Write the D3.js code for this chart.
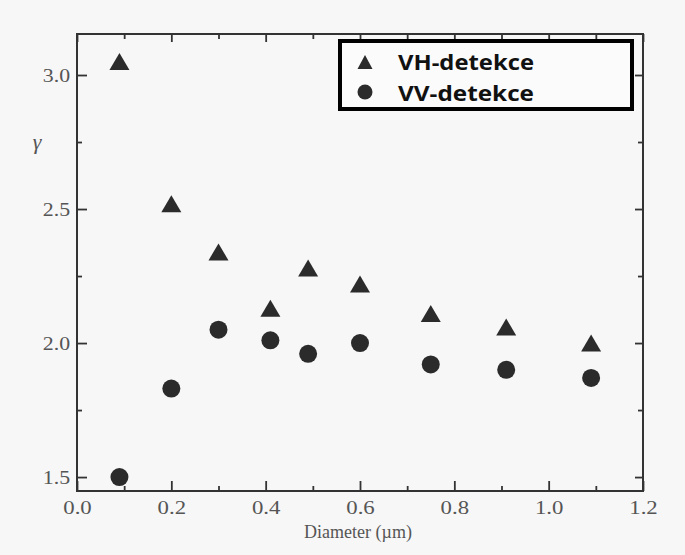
<!DOCTYPE html>
<html>
<head>
<meta charset="utf-8">
<script src="https://cdn.jsdelivr.net/npm/d3@7"></script>
<style>
  html, body { margin: 0; padding: 0; background: #f7f7f7; }
  svg { display: block; }
</style>
</head>
<body>
<svg id="chart" width="685" height="555"></svg>
<script>
// Particle diameter (µm) and the depolarisation ratio γ for both detection modes
const diameters = [0.09, 0.20, 0.30, 0.41, 0.49, 0.60, 0.75, 0.91, 1.09];
const vhValues  = [3.05, 2.52, 2.34, 2.13, 2.28, 2.22, 2.11, 2.06, 2.00];
const vvValues  = [1.50, 1.83, 2.05, 2.01, 1.96, 2.00, 1.92, 1.90, 1.87];
const seriesNames = ["VH-detekce", "VV-detekce"];
const xTickLabels = [0.0, 0.2, 0.4, 0.6, 0.8, 1.0, 1.2];
const yTickLabels = [1.5, 2.0, 2.5, 3.0];

const W = 685, H = 555;
const plotL = 77, plotR = 643, plotT = 34, plotB = 491;

const svg = d3.select("#chart");
svg.append("rect").attr("width", W).attr("height", H).attr("fill", "#f7f7f7");

const x = d3.scaleLinear().domain([0, 1.2]).range([plotL, plotR]);
const y = d3.scaleLinear().domain([1.448, 3.153]).range([plotB, plotT]);

const axisColor = "#333";
const labelColor = "#555";
const serif = "'Liberation Serif', 'Times New Roman', serif";

const xMinor = d3.range(0, 13).map(i => i / 10).filter(v => !xTickLabels.some(t => Math.abs(t - v) < 1e-9));
const yMinor = [1.75, 2.25, 2.75];

function styleAxis(g) {
  g.select(".domain").remove();
  g.selectAll(".tick line").attr("stroke", axisColor).attr("stroke-width", 1.8);
  g.selectAll(".tick text")
    .attr("fill", labelColor)
    .style("font-family", serif)
    .style("font-size", "19px");
}

// bottom axis: labelled majors and short minors, ticks pointing inward
svg.append("g").attr("transform", `translate(0,${plotB})`)
  .call(d3.axisBottom(x).tickValues(xTickLabels).tickSize(-10).tickPadding(10).tickFormat(d3.format(".1f")))
  .call(styleAxis)
  .call(g => g.selectAll(".tick text").attr("transform", "scale(1.2,1)"));
svg.append("g").attr("transform", `translate(0,${plotB})`)
  .call(d3.axisBottom(x).tickValues(xMinor).tickSize(-5).tickFormat(""))
  .call(styleAxis);

// top axis: unlabelled ticks
svg.append("g").attr("transform", `translate(0,${plotT})`)
  .call(d3.axisTop(x).tickValues(xTickLabels).tickSize(-8).tickFormat(""))
  .call(styleAxis);
svg.append("g").attr("transform", `translate(0,${plotT})`)
  .call(d3.axisTop(x).tickValues(xMinor).tickSize(-5).tickFormat(""))
  .call(styleAxis);

// left axis
svg.append("g").attr("transform", `translate(${plotL},0)`)
  .call(d3.axisLeft(y).tickValues(yTickLabels).tickSize(-10).tickPadding(6).tickFormat(d3.format(".1f")))
  .call(styleAxis)
  .call(g => g.selectAll(".tick text").attr("transform", "scale(1.15,1)"));
svg.append("g").attr("transform", `translate(${plotL},0)`)
  .call(d3.axisLeft(y).tickValues(yMinor).tickSize(-5).tickFormat(""))
  .call(styleAxis);

// right axis
svg.append("g").attr("transform", `translate(${plotR},0)`)
  .call(d3.axisRight(y).tickValues(yTickLabels).tickSize(-8).tickFormat(""))
  .call(styleAxis);
svg.append("g").attr("transform", `translate(${plotR},0)`)
  .call(d3.axisRight(y).tickValues(yMinor).tickSize(-5).tickFormat(""))
  .call(styleAxis);

// frame
svg.append("rect")
  .attr("x", plotL).attr("y", plotT)
  .attr("width", plotR - plotL).attr("height", plotB - plotT)
  .attr("fill", "none").attr("stroke", axisColor).attr("stroke-width", 2);

// axis titles
svg.append("text")
  .attr("x", (plotL + plotR) / 2 - 2).attr("y", 538)
  .attr("text-anchor", "middle")
  .attr("fill", labelColor)
  .style("font-family", serif).style("font-size", "18px")
  .text("Diameter (\u00b5m)");

svg.append("text")
  .attr("x", 37).attr("y", 149)
  .attr("text-anchor", "middle")
  .attr("fill", labelColor)
  .style("font-family", serif).style("font-size", "22px").style("font-style", "italic")
  .text("\u03b3");

const markColor = "#2b2b2b";
function triPath(w, h) {
  return `M0,${-h / 2}L${w / 2},${h / 2}L${-w / 2},${h / 2}Z`;
}

// data markers
const vh = diameters.map((d, i) => ({ d, v: vhValues[i] }));
const vv = diameters.map((d, i) => ({ d, v: vvValues[i] }));

svg.append("g").selectAll("path").data(vh).join("path")
  .attr("d", triPath(20, 17))
  .attr("transform", p => `translate(${x(p.d)},${y(p.v)})`)
  .attr("fill", markColor);

svg.append("g").selectAll("circle").data(vv).join("circle")
  .attr("cx", p => x(p.d)).attr("cy", p => y(p.v)).attr("r", 9)
  .attr("fill", markColor);

// legend
const lg = svg.append("g");
lg.append("rect")
  .attr("x", 340).attr("y", 41).attr("width", 292).attr("height", 68)
  .attr("fill", "#fbfbfb").attr("stroke", "#000").attr("stroke-width", 4);
lg.append("path").attr("d", triPath(15, 14)).attr("transform", "translate(365,62)").attr("fill", markColor);
lg.append("circle").attr("cx", 365).attr("cy", 92).attr("r", 7.5).attr("fill", markColor);
[70, 100.5].forEach((by, i) => {
  lg.append("text")
    .attr("x", 398).attr("y", by)
    .attr("textLength", 136).attr("lengthAdjust", "spacingAndGlyphs")
    .attr("fill", "#111")
    .style("font-family", "'Open Sans', 'DejaVu Sans', sans-serif")
    .style("font-weight", "bold").style("font-size", "22px")
    .text(seriesNames[i]);
});
</script>
</body>
</html>
